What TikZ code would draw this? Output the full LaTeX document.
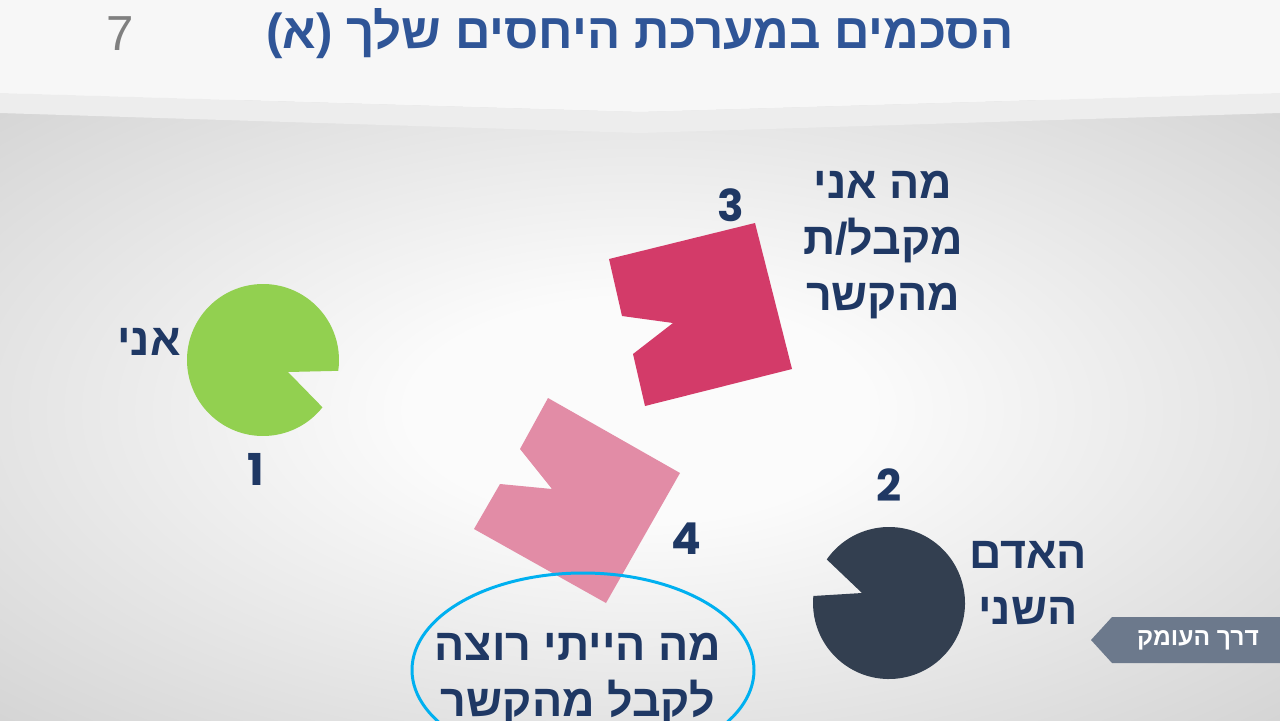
\documentclass[tikz,border=0pt]{standalone}
\usepackage{fontspec}
\usepackage{xcolor}
\usetikzlibrary{positioning,calc}
\TeXXeTstate=1
\newfontfamily\hebfont[Script=Hebrew]{Liberation Sans}
\newfontfamily\numfont{Poppins}
\newfontfamily\plainfont{Liberation Sans}
\definecolor{titleblue}{RGB}{47,85,151}
\definecolor{navy}{RGB}{31,56,100}
\definecolor{meGreen}{RGB}{146,208,80}
\definecolor{otherSlate}{RGB}{51,63,80}
\definecolor{getCrimson}{RGB}{211,59,105}
\definecolor{wantPink}{RGB}{226,140,166}
\definecolor{ringCyan}{RGB}{0,176,240}
\definecolor{tagGray}{RGB}{108,121,140}
\definecolor{bgEdge}{RGB}{212,212,212}
\definecolor{bgCenter}{RGB}{251,251,251}
\pgfdeclareradialshading{slideglow}{\pgfpoint{0bp}{0bp}}{%
  color(0bp)=(bgCenter); color(9bp)=(bgCenter); color(36bp)=(bgEdge); color(50bp)=(bgEdge)}

\begin{document}
\begin{tikzpicture}[
    x=0.02cm, y=-0.02cm,
    heblabel/.style={
        text=navy, align=center, inner sep=0pt,
        font=\hebfont\bfseries\fontsize{25.5}{32}\selectfont
    },
    number/.style={
        text=navy, inner sep=0pt,
        font=\numfont\bfseries\fontsize{25}{30}\selectfont
    },
    blob/.style={draw=none}
]
\useasboundingbox (0,0) rectangle (1280,720);

% background and header bands
\shade[shading=slideglow] (0,100) rectangle (1280,720);
\fill[black!3] (0,0) -- (1280,0) -- (1280,93) -- (640,112) -- (0,93) -- cycle;
\fill[black!7] (0,93) -- (640,112) -- (1280,93) -- (1280,113) -- (640,133) -- (0,113) -- cycle;

\node[text=titleblue, inner sep=0pt, font=\hebfont\bfseries\fontsize{28}{32}\selectfont]
    (title) at (640,34) {\beginR הסכמים במערכת היחסים שלך \mbox{\mbox{(}\mbox{א}\mbox{)}}\endR};
\node[text=black!50, inner sep=0pt, font=\plainfont\fontsize{28}{32}\selectfont]
    (page) at (120,34) {7};

% shapes
\fill[blob, wantPink] (548,398) -- (680,473) -- (606,603) -- (474,529)
    -- (500,484) -- (552,489) -- (520,449) -- cycle;
\fill[blob, getCrimson] (609,259) -- (755,223) -- (792,369) -- (645,406)
    -- (633,354) -- (673,323) -- (622,316) -- cycle;
\coordinate (me) at (263,360);
\fill[blob, meGreen] (288,372) -- ($(me)+(38.5:76)$)
    arc[start angle=38.5, end angle=368.2, radius=76] -- cycle;
\coordinate (other) at (889,603);
\fill[blob, otherSlate] (862,593) -- ($(other)+(215:76)$)
    arc[start angle=215, end angle=545.3, radius=76] -- cycle;
\draw[ringCyan, line width=1.7pt] (583,670) ellipse[x radius=171, y radius=97];

% labels
\node[heblabel, anchor=east] (meText) at (181,342) {\beginR אני\endR};
\node[number] (n1) at (256,469) {1};
\node[number] (n2) at (889,485) {2};
\node[heblabel] (otherText) at (1028,583) {\beginR האדם\endR\\\beginR השני\endR};
\node[number] (n3) at (731,205) {3};
\node[heblabel] (getText) at (883,245) {\beginR מה אני\endR\\\beginR מקבל\mbox{/}ת\endR\\\beginR מהקשר\endR};
\node[number] (n4) at (686,539) {4};
\node[heblabel] (wantText) at (578,679) {\beginR מה הייתי רוצה\endR\\\beginR לקבל מהקשר\endR};

% tag
\fill[tagGray] (1091,640) -- (1112,617) -- (1280,617) -- (1280,663) -- (1112,663) -- cycle;
\node[text=white, inner sep=0pt, font=\hebfont\bfseries\fontsize{14}{16}\selectfont]
    (tag) at (1198,640) {\beginR דרך העומק\endR};
\end{tikzpicture}
\end{document}
